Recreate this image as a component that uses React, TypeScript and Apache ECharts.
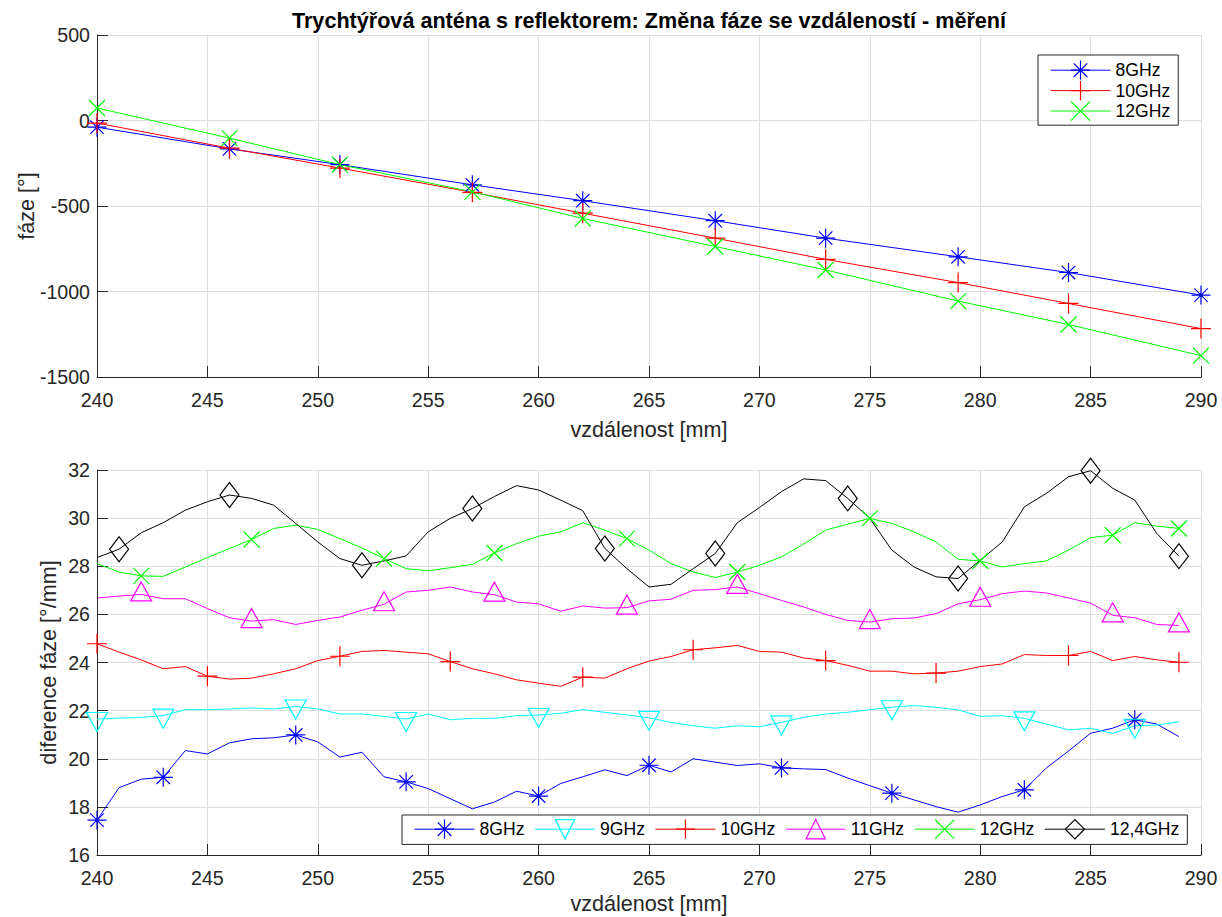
import { useEffect, useRef } from 'react';
import * as echarts from 'echarts';

const FONT = '"Liberation Sans", Arial, Helvetica, sans-serif';
const AXIS_COLOR = '#262626';
const GRID_COLOR = '#dedede';

const TITLE = 'Trychtýřová anténa s reflektorem: Změna fáze se vzdáleností - měření';
const X_NAME = 'vzdálenost [mm]';
const Y_NAME_TOP = 'fáze [°]';
const Y_NAME_BOTTOM = 'diference fáze [°/mm]';

// Upper panel: measured phase [deg] vs. distance [mm]
const phaseDistances = [240, 246, 251, 257, 262, 268, 273, 279, 284, 290];
const phase8GHz = [-39, -166, -258, -376, -469, -586, -688, -797, -889, -1021];
const phase10GHz = [-15, -162, -278, -420, -542, -688, -812, -948, -1070, -1217];
const phase12GHz = [73, -103, -258, -417, -573, -737, -874, -1056, -1193, -1375];

// Lower panel: phase difference [deg/mm] vs. distance [mm]
const diffDistances = [
  240, 241, 242, 243, 244, 245, 246, 247, 248, 249,
  250, 251, 252, 253, 254, 255, 256, 257, 258, 259,
  260, 261, 262, 263, 264, 265, 266, 267, 268, 269,
  270, 271, 272, 273, 274, 275, 276, 277, 278, 279,
  280, 281, 282, 283, 284, 285, 286, 287, 288, 289,
];
const diff8GHz = [
  17.45, 18.8, 19.15, 19.23, 20.34, 20.2, 20.66, 20.83, 20.87, 20.99,
  20.7, 20.07, 20.27, 19.25, 19.04, 18.76, 18.34, 17.92, 18.2, 18.65,
  18.45, 18.97, 19.25, 19.54, 19.3, 19.73, 19.45, 20.0, 19.86, 19.72,
  19.79, 19.62, 19.58, 19.55, 19.2, 18.88, 18.57, 18.29, 18.01, 17.78,
  18.08, 18.43, 18.71, 19.62, 20.32, 21.06, 21.27, 21.62, 21.44, 20.92,
];
const diff9GHz = [
  21.65, 21.69, 21.72, 21.79, 22.04, 22.04, 22.07, 22.11, 22.07, 22.17,
  22.07, 21.86, 21.86, 21.76, 21.65, 21.86, 21.62, 21.68, 21.68, 21.79,
  21.82, 21.89, 22.04, 21.93, 21.82, 21.7, 21.51, 21.37, 21.27, 21.37,
  21.33, 21.51, 21.72, 21.86, 21.93, 22.04, 22.14, 22.21, 22.14, 22.03,
  21.76, 21.79, 21.68, 21.44, 21.2, 21.27, 21.05, 21.37, 21.4, 21.54,
];
const diff10GHz = [
  24.78, 24.43, 24.11, 23.74, 23.83, 23.43, 23.31, 23.35, 23.53, 23.74,
  24.08, 24.26, 24.46, 24.5, 24.43, 24.36, 24.04, 23.74, 23.53, 23.28,
  23.14, 23.01, 23.39, 23.35, 23.74, 24.06, 24.25, 24.53, 24.61, 24.71,
  24.46, 24.43, 24.19, 24.08, 23.88, 23.64, 23.64, 23.53, 23.56, 23.64,
  23.83, 23.94, 24.33, 24.29, 24.29, 24.46, 24.08, 24.25, 24.11, 24.01,
];
const diff11GHz = [
  26.68, 26.76, 26.83, 26.65, 26.65, 26.24, 25.86, 25.72, 25.78, 25.58,
  25.75, 25.89, 26.17, 26.42, 26.93, 27.0, 27.14, 26.93, 26.82, 26.51,
  26.44, 26.13, 26.35, 26.26, 26.28, 26.56, 26.63, 27.0, 27.03, 27.14,
  26.86, 26.58, 26.31, 26.0, 25.75, 25.68, 25.82, 25.85, 26.03, 26.44,
  26.61, 26.86, 26.97, 26.89, 26.68, 26.47, 25.96, 25.86, 25.58, 25.54,
];
const diff12GHz = [
  28.11, 27.76, 27.6, 27.58, 27.97, 28.36, 28.74, 29.11, 29.57, 29.71,
  29.53, 29.15, 28.76, 28.32, 27.9, 27.81, 27.94, 28.08, 28.55, 28.94,
  29.25, 29.43, 29.81, 29.5, 29.15, 28.67, 28.11, 27.76, 27.53, 27.76,
  28.04, 28.39, 28.92, 29.5, 29.75, 29.99, 29.78, 29.43, 29.01, 28.29,
  28.22, 27.97, 28.11, 28.22, 28.67, 29.19, 29.29, 29.81, 29.67, 29.57,
];
const diff12_4GHz = [
  28.36, 28.71, 29.39, 29.81, 30.33, 30.68, 30.96, 30.82, 30.54, 29.78,
  29.01, 28.32, 28.04, 28.22, 28.43, 29.43, 29.99, 30.4, 30.9, 31.35,
  31.17, 30.75, 30.31, 28.74, 27.9, 27.14, 27.25, 27.9, 28.53, 29.81,
  30.44, 31.1, 31.63, 31.56, 30.82, 29.99, 28.67, 27.97, 27.56, 27.49,
  28.25, 29.01, 30.47, 31.03, 31.72, 31.97, 31.24, 30.75, 29.36, 28.42,
];

// Distances at which each lower-panel curve carries a marker
const marks8And9GHz = [240, 243, 249, 254, 260, 265, 271, 276, 282, 287];
const marks10GHz = [240, 245, 251, 256, 262, 267, 273, 278, 284, 289];
const marks11And12GHz = [242, 247, 253, 258, 264, 269, 275, 280, 286, 289];
const marks12_4GHz = [241, 246, 252, 257, 263, 268, 274, 279, 285, 289];

// Marker outlines (stroked, not filled)
const SYM_ASTERISK = 'path://M0 10L20 10M10 0L10 20M2.93 2.93L17.07 17.07M17.07 2.93L2.93 17.07';
const SYM_PLUS = 'path://M0 10L20 10M10 0L10 20';
const SYM_CROSS = 'path://M0 0L20 20M20 0L0 20';
const SYM_TRI_UP = 'path://M10 0L20 17.32L0 17.32Z';
const SYM_TRI_DOWN = 'path://M0 0L20 0L10 17.32Z';
const SYM_DIAMOND = 'path://M10 0L20 10L10 20L0 10Z';

type Marker = { symbol: string; size: number | number[]; offset?: number[] };

const MK = {
  asterisk: { symbol: SYM_ASTERISK, size: 19 } as Marker,
  plus: { symbol: SYM_PLUS, size: 20 } as Marker,
  cross: { symbol: SYM_CROSS, size: 16 } as Marker,
  triUp: { symbol: SYM_TRI_UP, size: [21, 19], offset: [0, -3] } as Marker,
  triDown: { symbol: SYM_TRI_DOWN, size: [21, 19], offset: [0, 3] } as Marker,
  diamond: { symbol: SYM_DIAMOND, size: [19, 25] } as Marker,
};

function makeSeries(
  name: string,
  xs: number[],
  ys: number[],
  marks: number[] | null,
  color: string,
  marker: Marker,
  axisIndex: number,
) {
  const data = xs.map((x, i) =>
    !marks || marks.includes(x) ? { value: [x, ys[i]] } : { value: [x, ys[i]], symbol: 'none' },
  );
  return {
    type: 'line',
    name,
    xAxisIndex: axisIndex,
    yAxisIndex: axisIndex,
    data,
    symbol: marker.symbol,
    symbolSize: marker.size,
    symbolOffset: marker.offset || [0, 0],
    showSymbol: true,
    showAllSymbol: true,
    clip: false,
    silent: true,
    lineStyle: { color, width: 1 },
    itemStyle: { color: 'rgba(0,0,0,0)', borderColor: color, borderWidth: 1.2 },
    emphasis: { disabled: true },
  };
}

function xAxis(gridIndex: number, nameGap: number) {
  return {
    type: 'value',
    gridIndex,
    min: 240,
    max: 290,
    interval: 5,
    name: X_NAME,
    nameLocation: 'middle',
    nameGap,
    nameMoveOverlap: false,
    nameTextStyle: { fontSize: 21.6, color: AXIS_COLOR, fontFamily: FONT },
    axisLine: { show: true, onZero: false, lineStyle: { color: AXIS_COLOR, width: 1 } },
    axisTick: { show: true, inside: true, length: 11, lineStyle: { color: AXIS_COLOR, width: 1 } },
    axisLabel: { color: AXIS_COLOR, fontSize: 19.6, fontFamily: FONT, margin: 13, formatter: (v: number) => String(v) },
    splitLine: { show: true, lineStyle: { color: GRID_COLOR, width: 1 } },
  };
}

function yAxis(gridIndex: number, min: number, max: number, interval: number, name: string, nameGap: number) {
  return {
    type: 'value',
    gridIndex,
    min,
    max,
    interval,
    name,
    nameLocation: 'middle',
    nameGap,
    nameMoveOverlap: false,
    nameTextStyle: { fontSize: 21.6, color: AXIS_COLOR, fontFamily: FONT },
    axisLine: { show: true, onZero: false, lineStyle: { color: AXIS_COLOR, width: 1 } },
    axisTick: { show: true, inside: true, length: 11, lineStyle: { color: AXIS_COLOR, width: 1 } },
    axisLabel: { color: AXIS_COLOR, fontSize: 19.6, fontFamily: FONT, margin: 7, formatter: (v: number) => String(v) },
    splitLine: { show: true, lineStyle: { color: GRID_COLOR, width: 1 } },
  };
}

const legendCommon = {
  itemWidth: 60,
  itemHeight: 24,
  borderColor: AXIS_COLOR,
  borderWidth: 1,
  borderRadius: 0,
  backgroundColor: '#ffffff',
  selectedMode: false,
  textStyle: { fontSize: 17.6, color: '#000000', fontFamily: FONT },
  itemStyle: { borderWidth: 1.2 },
  lineStyle: { width: 1 },
};

export default function App() {
  const ref = useRef<HTMLDivElement>(null);

  useEffect(() => {
    if (!ref.current) return;
    const chart = echarts.init(ref.current, undefined, { renderer: 'svg' });

    const option = {
      animation: false,
      backgroundColor: '#ffffff',
      textStyle: { fontFamily: FONT },
      title: {
        text: TITLE,
        left: 649,
        top: 9,
        padding: 0,
        textAlign: 'center',
        textStyle: { fontSize: 21.6, fontWeight: 'bold', color: '#000000', fontFamily: FONT },
      },
      grid: [
        { left: 97, top: 35, width: 1104, height: 342, outerBoundsMode: 'none', containLabel: false },
        { left: 97, top: 470, width: 1104, height: 385, outerBoundsMode: 'none', containLabel: false },
      ],
      xAxis: [xAxis(0, 41), xAxis(1, 37)],
      yAxis: [
        yAxis(0, -1500, 500, 500, Y_NAME_TOP, 60),
        yAxis(1, 16, 32, 2, Y_NAME_BOTTOM, 38),
      ],
      legend: [
        {
          ...legendCommon,
          data: ['8GHz', '10GHz', '12GHz'],
          orient: 'vertical',
          left: 1038,
          top: 55,
          itemGap: 0,
          padding: [5, 8, 4, 12],
        },
        {
          ...legendCommon,
          data: ['8GHz', '9GHz', '10GHz', '11GHz', '12GHz', '12,4GHz'],
          orient: 'horizontal',
          left: 402,
          top: 815,
          itemGap: 10,
          padding: [4, 8, 5, 12],
        },
      ],
      series: [
        makeSeries('8GHz', phaseDistances, phase8GHz, null, '#0000ff', MK.asterisk, 0),
        makeSeries('10GHz', phaseDistances, phase10GHz, null, '#ff0000', MK.plus, 0),
        makeSeries('12GHz', phaseDistances, phase12GHz, null, '#00ff00', MK.cross, 0),

        makeSeries('8GHz', diffDistances, diff8GHz, marks8And9GHz, '#0000ff', MK.asterisk, 1),
        makeSeries('9GHz', diffDistances, diff9GHz, marks8And9GHz, '#00ffff', MK.triDown, 1),
        makeSeries('10GHz', diffDistances, diff10GHz, marks10GHz, '#ff0000', MK.plus, 1),
        makeSeries('11GHz', diffDistances, diff11GHz, marks11And12GHz, '#ff00ff', MK.triUp, 1),
        makeSeries('12GHz', diffDistances, diff12GHz, marks11And12GHz, '#00ff00', MK.cross, 1),
        makeSeries('12,4GHz', diffDistances, diff12_4GHz, marks12_4GHz, '#000000', MK.diamond, 1),
      ],
    };

    chart.setOption(option as any);
    return () => chart.dispose();
  }, []);

  return (
    <div
      ref={ref}
      style={{ position: 'absolute', left: 0, top: 0, width: '1222px', height: '917px', background: '#fff' }}
    />
  );
}
